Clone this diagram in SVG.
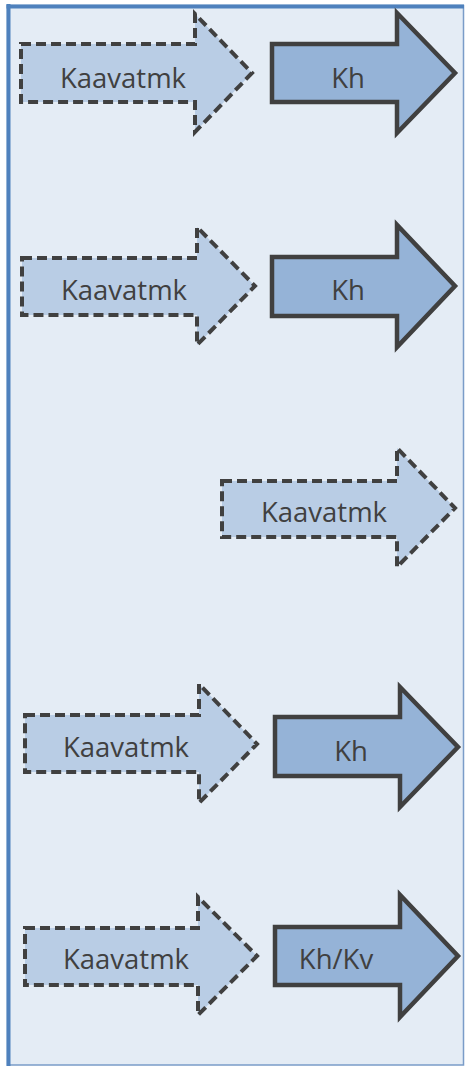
<svg xmlns="http://www.w3.org/2000/svg" width="466" height="1067" viewBox="0 0 466 1067">
<style>
.dash{fill:#b9cde5;stroke:#404040;stroke-width:4;stroke-dasharray:10 5;stroke-linejoin:miter}
.solid{fill:#95b3d7;stroke:#404040;stroke-width:4.5;stroke-linejoin:miter}
.t{font-family:"Open Sans","Liberation Sans",sans-serif;font-size:27.5px;fill:#404040;text-anchor:middle}
</style>
<g id="panel">
<rect x="7.5" y="5.5" width="456" height="1059.5" fill="#e4ecf5" stroke="#7a9cc8" stroke-width="1.5"/>
<line x1="8.5" y1="4" x2="8.5" y2="1066" stroke="#4f81bd" stroke-width="4"/>
<line x1="6.5" y1="6.5" x2="464" y2="6.5" stroke="#4f81bd" stroke-width="4"/>
</g>
<g id="connectors"></g>
<g id="n1a"><path class="dash" d="M21,44 H195 V14 L252,73 L195,132 V102 H21 Z"/><text class="t" x="123" y="88">Kaavatmk</text></g>
<g id="n1b"><path class="solid" d="M272,44 H397 V13 L455,73 L397,133 V102 H272 Z"/><text class="t" x="348" y="88">Kh</text></g>
<g id="n2a"><path class="dash" d="M22,258 H197 V227 L255,286 L197,345 V315 H22 Z"/><text class="t" x="124" y="300">Kaavatmk</text></g>
<g id="n2b"><path class="solid" d="M272,257 H397 V225 L455,286 L397,347 V316 H272 Z"/><text class="t" x="348" y="300">Kh</text></g>
<g id="n3a"><path class="dash" d="M222,481 H397 V448 L455,508 L397,567 V537 H222 Z"/><text class="t" x="324" y="522">Kaavatmk</text></g>
<g id="n4a"><path class="dash" d="M25,715 H199 V684 L257,744 L199,803 V772 H25 Z"/><text class="t" x="126" y="757">Kaavatmk</text></g>
<g id="n4b"><path class="solid" d="M275,717 H400 V687 L458,747 L400,807 V776 H275 Z"/><text class="t" x="351" y="761">Kh</text></g>
<g id="n5a"><path class="dash" d="M25,928 H198 V897 L257,956 L198,1015 V985 H25 Z"/><text class="t" x="126" y="969">Kaavatmk</text></g>
<g id="n5b"><path class="solid" d="M275,927 H400 V895 L458,956 L400,1017 V985 H275 Z"/><text class="t" x="336" y="969">Kh/Kv</text></g>
</svg>
